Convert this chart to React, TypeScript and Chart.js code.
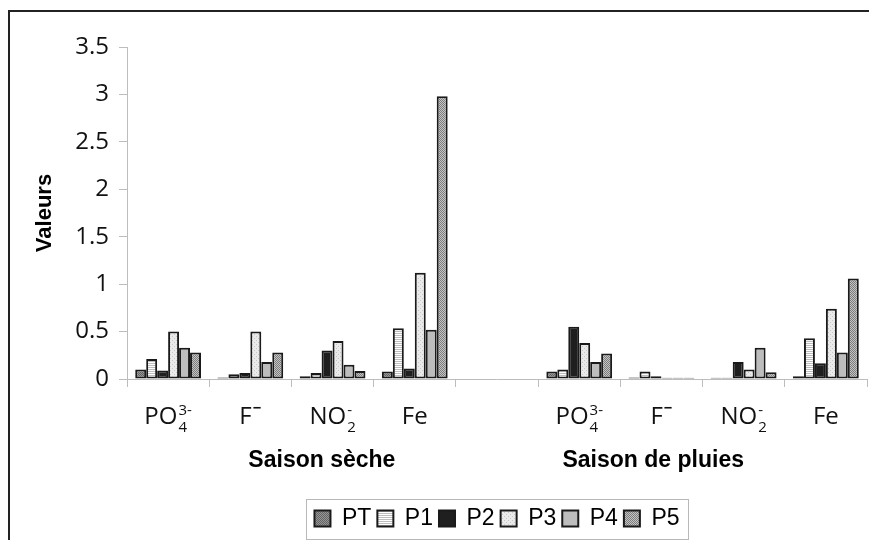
import React, { useEffect, useRef } from "react";
import { Chart, registerables } from "chart.js";

Chart.register(...registerables);

// ---- Data ----
const categories = ["PO4 sèche", "F sèche", "NO2 sèche", "Fe sèche", "", "PO4 pluies", "F pluies", "NO2 pluies", "Fe pluies"];
const catBase = ["PO", "F", "NO", "Fe", "", "PO", "F", "NO", "Fe"];
const catSup = ["3-", "\u2212", "-", "", "", "3-", "\u2212", "-", ""];
const catSub = ["4", "", "2", "", "", "4", "", "2", ""];
const groupLabels = ["Saison sèche", "Saison de pluies"];
const groupAt = [1.87, 5.9];

const seriesNames = ["PT", "P1", "P2", "P3", "P4", "P5"];
const PT = [0.1, 0.015, 0.03, 0.08, null, 0.08, 0.015, 0.012, 0.03];
const P1 = [0.21, 0.05, 0.063, 0.535, null, 0.1, 0.08, 0.012, 0.43];
const P2 = [0.09, 0.063, 0.3, 0.11, null, 0.55, 0.03, 0.18, 0.165];
const P3 = [0.5, 0.5, 0.4, 1.12, null, 0.38, 0.012, 0.1, 0.74];
const P4 = [0.33, 0.18, 0.15, 0.52, null, 0.18, 0.012, 0.33, 0.28];
const P5 = [0.28, 0.28, 0.085, 2.98, null, 0.27, 0.012, 0.07, 1.06];
const seriesValues = [PT, P1, P2, P3, P4, P5];

const yMin = 0;
const yMax = 3.5;
const yStep = 0.5;

function makePattern(size: number, draw: (g: CanvasRenderingContext2D) => void): CanvasPattern | string {
  const c = document.createElement("canvas");
  c.width = size;
  c.height = size;
  const g = c.getContext("2d");
  if (!g) return "#888";
  draw(g);
  return g.createPattern(c, "repeat") || "#888";
}

function checker(a: string, b: string) {
  return makePattern(2, (g) => {
    g.fillStyle = a;
    g.fillRect(0, 0, 2, 2);
    g.fillStyle = b;
    g.fillRect(0, 0, 1, 1);
    g.fillRect(1, 1, 1, 1);
  });
}

const decorPlugin = {
  id: "decor",
  afterDraw(chart: any) {
    const ctx: CanvasRenderingContext2D = chart.ctx;
    ctx.save();
    // outer frame (top and left only visible)
    ctx.fillStyle = "#222";
    ctx.fillRect(8, 10, 861, 2);
    ctx.fillRect(8, 10, 2, 530);

    // legend border
    const lg = chart.legend;
    const hb = lg && lg.legendHitBoxes;
    if (hb && hb.length) {
      const l = Math.round(hb[0].left - 8);
      const last = hb[hb.length - 1];
      const r = Math.round(last.left + last.width + 8);
      const t = Math.round(lg.top - 2);
      ctx.strokeStyle = "#b8b8b8";
      ctx.lineWidth = 1;
      ctx.strokeRect(l + 0.5, t + 0.5, r - l, 539 - t);
    }

    // category labels with sub/superscripts
    const xs = chart.scales.x;
    const baseFont = '24px "Open Sans"';
    const smallFont = '15px "Open Sans"';
    const baseY = 424;
    ctx.fillStyle = "#111";
    ctx.textBaseline = "alphabetic";
    ctx.textAlign = "left";
    for (let i = 0; i < catBase.length; i++) {
      if (!catBase[i]) continue;
      const cx = xs.getPixelForValue(i);
      ctx.font = baseFont;
      const bw = ctx.measureText(catBase[i]).width;
      ctx.font = catSup[i] === "\u2212" ? "bold " + smallFont : smallFont;
      const sw = catSup[i] ? ctx.measureText(catSup[i]).width : 0;
      ctx.font = smallFont;
      const subw = catSub[i] ? ctx.measureText(catSub[i]).width : 0;
      const total = bw + Math.max(sw, subw) + (sw || subw ? 1 : 0);
      const x0 = cx - total / 2;
      ctx.font = baseFont;
      ctx.fillText(catBase[i], x0, baseY);
      if (catSup[i]) {
        ctx.font = catSup[i] === "\u2212" ? "bold " + smallFont : smallFont;
        ctx.fillText(catSup[i], x0 + bw + 1, catSup[i] === "\u2212" ? 413 : 415);
      }
      if (catSub[i]) {
        ctx.font = smallFont;
        ctx.fillText(catSub[i], x0 + bw + 1, 432);
      }
    }

    // group labels
    ctx.font = 'bold 23px "Liberation Sans"';
    ctx.textAlign = "center";
    ctx.fillStyle = "#000";
    for (let g = 0; g < groupLabels.length; g++) {
      ctx.fillText(groupLabels[g], xs.getPixelForValue(groupAt[g]), 467);
    }
    ctx.restore();
  },
};

export default function App() {
  const ref = useRef<HTMLCanvasElement | null>(null);

  useEffect(() => {
    const canvas = ref.current;
    if (!canvas) return;

    const fills: (CanvasPattern | string)[] = [
      checker("#969696", "#646464"),
      makePattern(2, (g) => {
        g.fillStyle = "#ffffff";
        g.fillRect(0, 0, 2, 2);
        g.fillStyle = "#bdbdbd";
        g.fillRect(0, 1, 2, 1);
      }),
      "#1f1f1f",
      makePattern(4, (g) => {
        g.fillStyle = "#eaeaea";
        g.fillRect(0, 0, 4, 4);
        g.fillStyle = "#c6c6c6";
        g.fillRect(0, 0, 1, 1);
        g.fillRect(2, 2, 1, 1);
      }),
      "#bdbdbd",
      checker("#c4c4c4", "#7c7c7c"),
    ];

    const chart = new Chart(canvas, {
      type: "bar",
      data: {
        labels: categories,
        datasets: seriesNames.map((name, i) => ({
          label: name,
          data: seriesValues[i] as any,
          backgroundColor: fills[i] as any,
          borderColor: "#1a1a1a",
          borderWidth: 2,
          borderSkipped: false,
          categoryPercentage: 0.8,
          barPercentage: 1.0,
        })),
      },
      options: {
        animation: false,
        responsive: false,
        devicePixelRatio: 1,
        layout: { padding: { left: 0, top: 47, right: 2, bottom: 0 } },
        plugins: {
          tooltip: { enabled: false },
          title: { display: false },
          legend: {
            display: true,
            position: "bottom",
            fullSize: false,
            labels: {
              font: { family: '"Liberation Sans"', size: 23 },
              color: "#000",
              boxWidth: 16,
              boxHeight: 16,
              padding: 6,
            },
          },
        },
        scales: {
          x: {
            type: "category",
            offset: true,
            grid: {
              display: true,
              drawOnChartArea: false,
              drawTicks: true,
              tickLength: 8,
              color: "#bdbdbd",
              offset: true,
            },
            border: { display: true, color: "#bdbdbd", width: 1 },
            ticks: { display: false },
            afterFit(scale: any) {
              scale.height = 122;
            },
          },
          y: {
            type: "linear",
            min: yMin,
            max: yMax,
            ticks: {
              stepSize: yStep,
              color: "#111",
              font: { family: '"Open Sans"', size: 24 },
              padding: 10,
              callback: (v: any) => String(Number(v)),
            },
            grid: {
              display: true,
              drawOnChartArea: false,
              drawTicks: true,
              tickLength: 8,
              color: "#bdbdbd",
            },
            border: { display: true, color: "#bdbdbd", width: 1 },
            title: {
              display: true,
              text: "Valeurs",
              color: "#000",
              font: { family: '"Liberation Sans"', size: 22, weight: "bold" },
              padding: { top: 32, bottom: 0 },
            },
            afterFit(scale: any) {
              scale.width = 127;
            },
          },
        },
      },
      plugins: [decorPlugin],
    });

    return () => chart.destroy();
  }, []);

  return (
    <div style={{ position: "fixed", left: 0, top: 0, width: 869, height: 540, background: "#fff" }}>
      <canvas ref={ref} width={869} height={540} style={{ display: "block", width: 869, height: 540 }} />
    </div>
  );
}
